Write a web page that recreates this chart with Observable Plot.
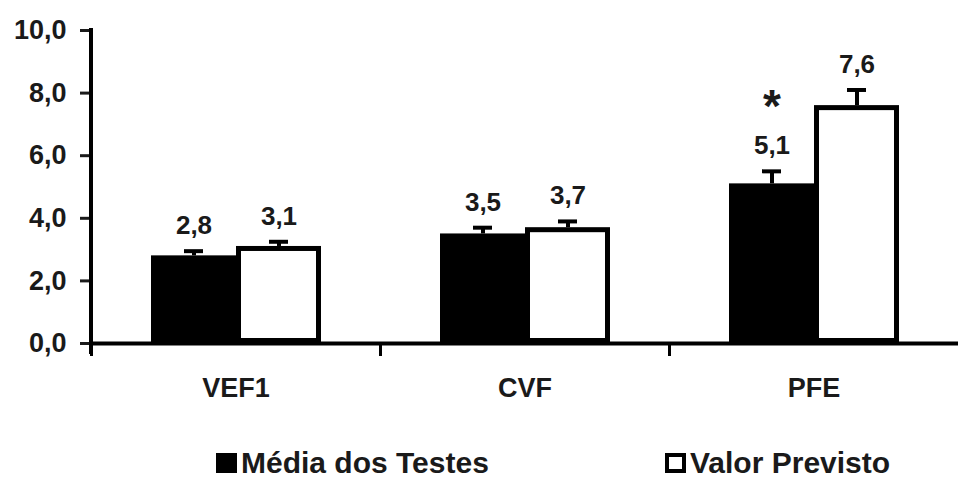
<!DOCTYPE html>
<html><head><meta charset="utf-8">
<script src="https://cdn.jsdelivr.net/npm/d3@7"></script>
<script src="https://cdn.jsdelivr.net/npm/@observablehq/plot@0.6"></script>
<style>
html,body{margin:0;padding:0;background:#fff;}
body{width:958px;height:478px;overflow:hidden;font-family:"Liberation Sans",Arial,sans-serif;}
#legend{position:relative;height:65px;}
.item{position:absolute;top:33px;height:34px;display:flex;align-items:center;font-weight:bold;font-size:30px;line-height:34px;color:#1a1a1a;white-space:nowrap;}
.sw{width:21px;height:20px;box-sizing:border-box;margin-right:4px;flex:none;}
</style></head>
<body><div id="chart"></div><div id="legend"></div>
<script>
const categories = ["VEF1", "CVF", "PFE"];
const seriesNames = ["Média dos Testes", "Valor Previsto"];
const mediaValues = [2.8, 3.5, 5.1];
const previstoValues = [3.1, 3.7, 7.6];
const mediaErrors = [0.15, 0.2, 0.4];
const previstoErrors = [0.15, 0.2, 0.5];
const significance = ["", "", "*"];
const yTicks = [0, 2, 4, 6, 8, 10];

const rows = [];
categories.forEach((c, i) => {
  rows.push({cat: c, series: seriesNames[0], value: mediaValues[i], err: mediaErrors[i], mark: significance[i]});
  rows.push({cat: c, series: seriesNames[1], value: previstoValues[i], err: previstoErrors[i], mark: ""});
});
const fmt = v => v.toFixed(1).replace(".", ",");
const W = 958, H = 413, ML = 91, MR = 0, MT = 30, MB = 70;
const font = '"Liberation Sans", Arial, sans-serif';
const ink = "#1a1a1a";

const plot = Plot.plot({
  width: W, height: H, marginLeft: ML, marginRight: MR, marginTop: MT, marginBottom: MB,
  style: {fontFamily: font, color: ink, background: "#fff"},
  fx: {domain: categories, padding: 0, label: null},
  x: {domain: seriesNames, paddingInner: 0, paddingOuter: 0.7, axis: null},
  y: {domain: [0, 10], label: null},
  marks: [
    Plot.barY(rows.filter(d => d.series === seriesNames[0]), {fx: "cat", x: "series", y: "value", fill: "black"}),
    Plot.barY(rows.filter(d => d.series === seriesNames[1]), {fx: "cat", x: "series", y: "value", fill: "white", stroke: "black", strokeWidth: 5, inset: 2.5}),
    Plot.ruleX(rows, {fx: "cat", x: "series", y1: "value", y2: d => d.value + d.err, stroke: "black", strokeWidth: 4}),
    Plot.tickY(rows, {fx: "cat", x: "series", y: d => d.value + d.err, stroke: "black", strokeWidth: 4, insetLeft: 33, insetRight: 33}),
    Plot.text(rows, {fx: "cat", x: "series", y: d => d.value + d.err, text: d => fmt(d.value), dy: -17, lineAnchor: "bottom", fontSize: 26, fontWeight: "bold", fill: ink}),
    Plot.text(rows.filter(d => d.mark), {fx: "cat", x: "series", y: d => d.value + d.err, text: "mark", dy: -64, lineAnchor: "middle", fontSize: 46, fontWeight: "bold", fill: ink}),
    Plot.ruleY([0], {stroke: "black", strokeWidth: 4}),
    Plot.frame({anchor: "left", insetTop: H - MT - MB, insetBottom: -11, stroke: "black", strokeWidth: 3}),
    Plot.axisY({ticks: yTicks, tickFormat: fmt, tickSize: 11, tickPadding: 14, strokeWidth: 3, fontSize: 27, fontWeight: "bold", label: null}),
    Plot.axisFx({anchor: "bottom", tickSize: 0, tickPadding: 34, fontSize: 27, fontWeight: "bold", label: null})
  ]
});

const ys = plot.scale("y");
d3.select(plot).append("line")
  .attr("x1", ML).attr("x2", ML)
  .attr("y1", ys.apply(10) - 2).attr("y2", ys.apply(0) + 11)
  .attr("stroke", "black").attr("stroke-width", 4);

document.getElementById("chart").appendChild(plot);

const legend = d3.select("#legend");
const legendLeft = [216, 665];
seriesNames.forEach((s, i) => {
  const it = legend.append("div").attr("class", "item").style("left", legendLeft[i] + "px");
  it.append("div").attr("class", "sw")
    .style("background", i === 0 ? "black" : "white")
    .style("border", i === 0 ? "none" : "4px solid black");
  it.append("span").text(s);
});
</script>
</body></html>
